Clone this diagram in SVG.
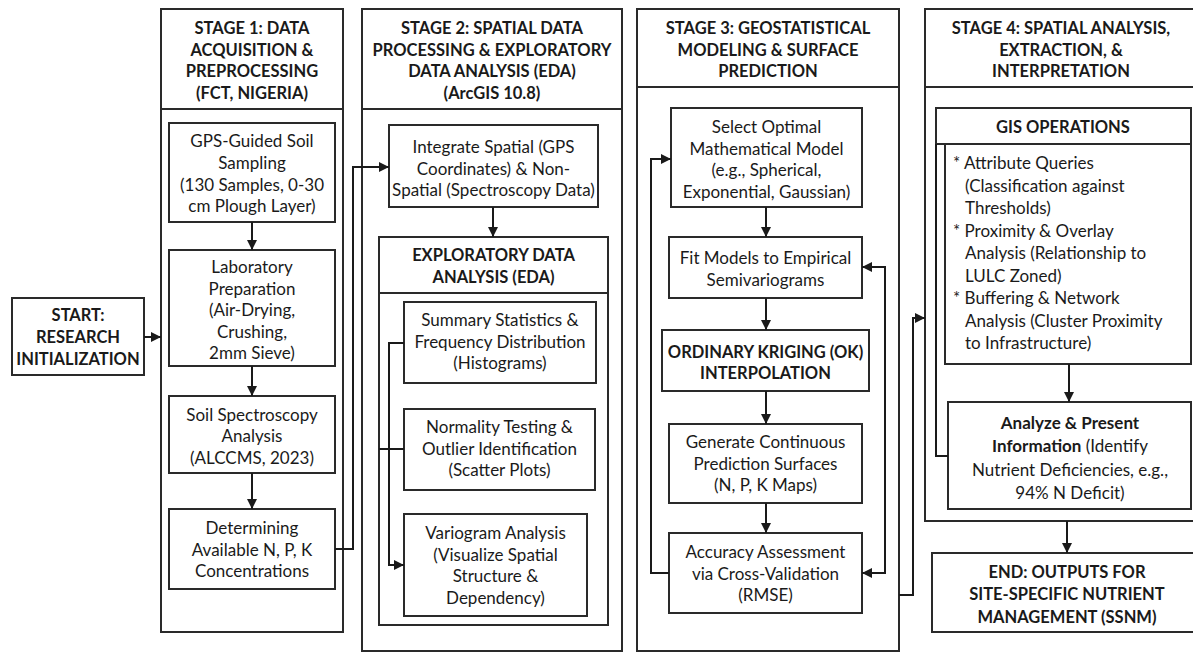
<svg xmlns="http://www.w3.org/2000/svg" width="1193" height="652" viewBox="0 0 1193 652">
<defs>
<marker id="ah" viewBox="0 0 10 10" refX="10" refY="5" markerWidth="10" markerHeight="10" markerUnits="userSpaceOnUse" orient="auto">
<path d="M0,0 L10,5 L0,10 Z" fill="#1a1a1a"/>
</marker>
<style>
rect{fill:#fff;stroke:#2a2a2a;stroke-width:2}
.ln{fill:none;stroke:#2a2a2a;stroke-width:2}
text{font-family:Lato,"Liberation Sans",sans-serif;font-size:17px;fill:#1a1a1a;text-anchor:middle}
.b{font-weight:bold;font-size:16.5px}
tspan.b{font-size:17px}
.l{text-anchor:start}
.c{fill:none;stroke:#1a1a1a;stroke-width:2}
</style>
</defs>
<rect x="0" y="0" width="1193" height="652" style="fill:#fff;stroke:none"/>

<g id="start">
<rect x="12" y="298" width="132" height="77"/>
<text class="b" x="78" y="321">START:</text>
<text class="b" x="78" y="343">RESEARCH</text>
<text class="b" x="78" y="365">INITIALIZATION</text>
</g>

<g id="stage1">
<rect x="161" y="9" width="182" height="623"/>
<line class="ln" x1="161" y1="109" x2="343" y2="109"/>
<text class="b" x="252" y="34">STAGE 1: DATA</text>
<text class="b" x="252" y="56">ACQUISITION &amp;</text>
<text class="b" x="252" y="77">PREPROCESSING</text>
<text class="b" x="252" y="99">(FCT, NIGERIA)</text>
</g>
<g id="gps">
<rect x="169" y="123" width="166" height="99"/>
<text x="252" y="147">GPS-Guided Soil</text>
<text x="252" y="169">Sampling</text>
<text x="252" y="190.5">(130 Samples, 0-30</text>
<text x="252" y="212">cm Plough Layer)</text>
</g>
<g id="lab">
<rect x="169" y="250" width="166" height="116"/>
<text x="252" y="273">Laboratory</text>
<text x="252" y="294.5">Preparation</text>
<text x="252" y="316">(Air-Drying,</text>
<text x="252" y="337.5">Crushing,</text>
<text x="252" y="359">2mm Sieve)</text>
</g>
<g id="spectro">
<rect x="169" y="396" width="166" height="77"/>
<text x="252" y="421">Soil Spectroscopy</text>
<text x="252" y="442">Analysis</text>
<text x="252" y="463.5">(ALCCMS, 2023)</text>
</g>
<g id="npk">
<rect x="169" y="509" width="166" height="80"/>
<text x="252" y="534">Determining</text>
<text x="252" y="555.5">Available N, P, K</text>
<text x="252" y="577">Concentrations</text>
</g>

<g id="stage2">
<rect x="362" y="9" width="260" height="642"/>
<line class="ln" x1="362" y1="109" x2="622" y2="109"/>
<text class="b" x="492" y="34">STAGE 2: SPATIAL DATA</text>
<text class="b" x="492" y="56">PROCESSING &amp; EXPLORATORY</text>
<text class="b" x="492" y="77">DATA ANALYSIS (EDA)</text>
<text class="b" x="492" y="99">(ArcGIS 10.8)</text>
</g>
<g id="integrate">
<rect x="389" y="125" width="209" height="82"/>
<text x="493.5" y="153">Integrate Spatial (GPS</text>
<text x="493.5" y="174.5">Coordinates) &amp; Non-</text>
<text x="493.5" y="196">Spatial (Spectroscopy Data)</text>
</g>
<g id="eda">
<rect x="379" y="237" width="229" height="388"/>
<line class="ln" x1="379" y1="293" x2="608" y2="293"/>
<text class="b" x="493.5" y="261">EXPLORATORY DATA</text>
<text class="b" x="493.5" y="283">ANALYSIS (EDA)</text>
</g>
<g id="summary">
<rect x="404" y="302" width="192" height="81"/>
<text x="500" y="326">Summary Statistics &amp;</text>
<text x="500" y="347.5">Frequency Distribution</text>
<text x="500" y="369">(Histograms)</text>
</g>
<g id="normality">
<rect x="404" y="409" width="191" height="81"/>
<text x="499.5" y="433">Normality Testing &amp;</text>
<text x="499.5" y="454.5">Outlier Identification</text>
<text x="499.5" y="476">(Scatter Plots)</text>
</g>
<g id="variogram">
<rect x="404" y="514" width="183" height="102"/>
<text x="495.5" y="539">Variogram Analysis</text>
<text x="495.5" y="560.5">(Visualize Spatial</text>
<text x="495.5" y="582">Structure &amp;</text>
<text x="495.5" y="603.5">Dependency)</text>
</g>

<g id="stage3">
<rect x="637" y="9" width="262" height="642"/>
<line class="ln" x1="637" y1="87" x2="899" y2="87"/>
<text class="b" x="768" y="34">STAGE 3: GEOSTATISTICAL</text>
<text class="b" x="768" y="56">MODELING &amp; SURFACE</text>
<text class="b" x="768" y="77">PREDICTION</text>
</g>
<g id="select">
<rect x="671" y="108" width="191" height="99"/>
<text x="766.5" y="133">Select Optimal</text>
<text x="766.5" y="154.5">Mathematical Model</text>
<text x="766.5" y="176">(e.g., Spherical,</text>
<text x="766.5" y="197.5">Exponential, Gaussian)</text>
</g>
<g id="fit">
<rect x="669" y="237" width="193" height="61"/>
<text x="765.5" y="264">Fit Models to Empirical</text>
<text x="765.5" y="285.5">Semivariograms</text>
</g>
<g id="kriging">
<rect x="662" y="330" width="207" height="61"/>
<text class="b" x="765.5" y="357.5">ORDINARY KRIGING (OK)</text>
<text class="b" x="765.5" y="379">INTERPOLATION</text>
</g>
<g id="generate">
<rect x="669" y="424" width="193" height="79"/>
<text x="765.5" y="448">Generate Continuous</text>
<text x="765.5" y="469.5">Prediction Surfaces</text>
<text x="765.5" y="491">(N, P, K Maps)</text>
</g>
<g id="accuracy">
<rect x="669" y="533" width="193" height="80"/>
<text x="765.5" y="558">Accuracy Assessment</text>
<text x="765.5" y="579.5">via Cross-Validation</text>
<text x="765.5" y="601">(RMSE)</text>
</g>

<g id="stage4">
<rect x="925" y="9" width="280" height="512"/>
<line class="ln" x1="925" y1="87" x2="1193" y2="87"/>
<text class="b" x="1061" y="34">STAGE 4: SPATIAL ANALYSIS,</text>
<text class="b" x="1061" y="56">EXTRACTION, &amp;</text>
<text class="b" x="1061" y="77">INTERPRETATION</text>
</g>
<g id="gis">
<rect x="936" y="108" width="255" height="36"/>
<text class="b" x="1063" y="133">GIS OPERATIONS</text>
<rect x="945" y="144" width="246" height="220"/>
<text class="l" x="953" y="169">* Attribute Queries</text>
<text class="l" x="965" y="191.5">(Classification against</text>
<text class="l" x="965" y="214">Thresholds)</text>
<text class="l" x="953" y="236.5">* Proximity &amp; Overlay</text>
<text class="l" x="965" y="259">Analysis (Relationship to</text>
<text class="l" x="965" y="281.5">LULC Zoned)</text>
<text class="l" x="953" y="304">* Buffering &amp; Network</text>
<text class="l" x="965" y="326.5">Analysis (Cluster Proximity</text>
<text class="l" x="965" y="349">to Infrastructure)</text>
</g>
<g id="analyze">
<rect x="948" y="402" width="243" height="107"/>
<text class="b" x="1070" y="429" style="font-size:17px">Analyze &amp; Present</text>
<text x="1070" y="452"><tspan class="b">Information</tspan> (Identify</text>
<text x="1070" y="475.5">Nutrient Deficiencies, e.g.,</text>
<text x="1070" y="498.5">94% N Deficit)</text>
</g>
<g id="end">
<rect x="932" y="553" width="270" height="79"/>
<text class="b" x="1067" y="578">END: OUTPUTS FOR</text>
<text class="b" x="1067" y="600">SITE-SPECIFIC NUTRIENT</text>
<text class="b" x="1067" y="623">MANAGEMENT (SSNM)</text>
</g>

<g id="connectors">
<path class="c" d="M144,337 H161" marker-end="url(#ah)"/>
<path class="c" d="M252,222 V250" marker-end="url(#ah)"/>
<path class="c" d="M252,366 V396" marker-end="url(#ah)"/>
<path class="c" d="M252,473 V509" marker-end="url(#ah)"/>
<path class="c" d="M335,549 H353 V167 H389" marker-end="url(#ah)"/>
<path class="c" d="M493,207 V237" marker-end="url(#ah)"/>
<path class="c" d="M404,343 H389 V565 H404" marker-end="url(#ah)"/>
<path class="c" d="M379,449 H404"/>
<path class="c" d="M766,207 V237" marker-end="url(#ah)"/>
<path class="c" d="M766,298 V330" marker-end="url(#ah)"/>
<path class="c" d="M766,391 V424" marker-end="url(#ah)"/>
<path class="c" d="M766,503 V533" marker-end="url(#ah)"/>
<path class="c" d="M669,573 H651 V159 H671" marker-end="url(#ah)"/>
<path class="c" d="M885,420 V267 H862" marker-end="url(#ah)"/>
<path class="c" d="M885,420 V573 H862" marker-end="url(#ah)"/>
<path class="c" d="M899,595 H913 V318 H925" marker-end="url(#ah)"/>
<path class="c" d="M1069,364 V402" marker-end="url(#ah)"/>
<path class="c" d="M936,144 V456 H948"/>
<path class="c" d="M1067,521 V553" marker-end="url(#ah)"/>
</g>
</svg>
